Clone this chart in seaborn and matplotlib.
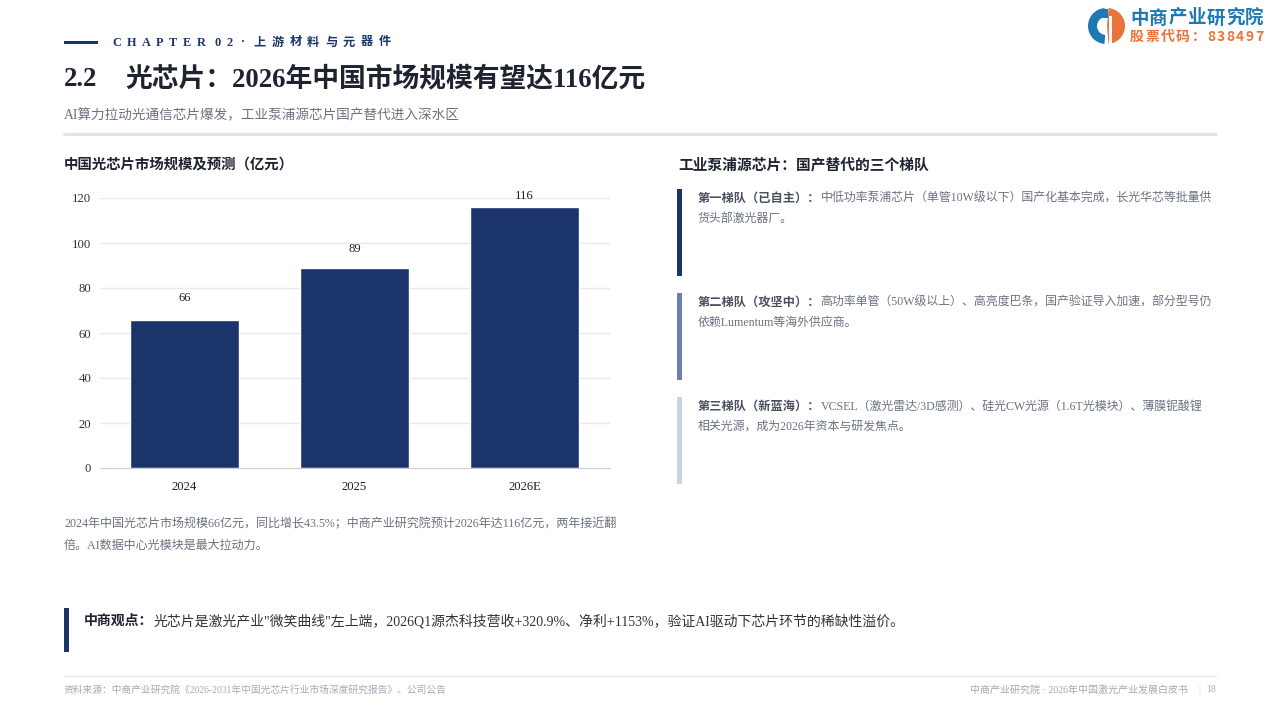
import matplotlib
matplotlib.use("Agg")
import matplotlib.pyplot as plt
import matplotlib.patches as mpatches
import seaborn as sns
import pandas as pd

# ---------------- data ----------------
years = ["2024", "2025", "2026E"]
market_size = [66, 89, 116]
y_ticks = [0, 20, 40, 60, 80, 100, 120]

chapter_label = "CHAPTER 02 · 上游材料与元器件"
title_num = "2.2"
title_text = "光芯片：2026年中国市场规模有望达116亿元"
subtitle = "AI算力拉动光通信芯片爆发，工业泵浦源芯片国产替代进入深水区"
chart_title = "中国光芯片市场规模及预测（亿元）"
note_lines = ["2024年中国光芯片市场规模66亿元，同比增长43.5%；中商产业研究院预计2026年达116亿元，两年接近翻",
              "倍。AI数据中心光模块是最大拉动力。"]
panel_title = "工业泵浦源芯片：国产替代的三个梯队"
tier_heads = ["第一梯队（已自主）：", "第二梯队（攻坚中）：", "第三梯队（新蓝海）："]
tier_line1 = ["中低功率泵浦芯片（单管10W级以下）国产化基本完成，长光华芯等批量供",
              "高功率单管（50W级以上）、高亮度巴条，国产验证导入加速，部分型号仍",
              "VCSEL（激光雷达/3D感测）、硅光CW光源（1.6T光模块）、薄膜铌酸锂"]
tier_line2 = ["货头部激光器厂。", "依赖Lumentum等海外供应商。", "相关光源，成为2026年资本与研发焦点。"]
view_head = "中商观点："
view_body = "光芯片是激光产业\"微笑曲线\"左上端，2026Q1源杰科技营收+320.9%、净利+1153%，验证AI驱动下芯片环节的稀缺性溢价。"
footer_left = "资料来源：中商产业研究院《2026-2031年中国光芯片行业市场深度研究报告》、公司公告"
footer_right = "中商产业研究院 · 2026年中国激光产业发展白皮书"
page_no = "18"
logo_name = "中商产业研究院"
logo_code = "股票代码：838497"

# ---------------- style ----------------
sns.set_style("white")
MIX = ["Liberation Serif", "Noto Sans CJK SC", "DejaVu Sans"]
SANS = ["Noto Sans CJK SC", "DejaVu Sans"]
plt.rcParams["font.family"] = MIX

NAVY = "#1b3469"
MID = "#6b80b0"
LIGHT = "#c8d3e6"
DARK = "#1f2330"
GRAY = "#6b7280"
GRID = "#e6e9f0"

W, H = 1280, 720
fig = plt.figure(figsize=(12.8, 7.2), dpi=100)
fig.patch.set_facecolor("white")

# overlay in pixel coordinates
ov = fig.add_axes([0, 0, 1, 1])
ov.set_xlim(0, W)
ov.set_ylim(H, 0)
ov.axis("off")

renderer = fig.canvas.get_renderer()


def text(x, y, s, size, color, weight="normal", family=MIX, ha="left", va="center"):
    return ov.text(x, y, s, fontsize=size, color=color, fontweight=weight,
                   family=family, ha=ha, va=va)


def width_of(t):
    return t.get_window_extent(renderer=renderer).width


def runs(x, y, parts, va="center"):
    cx = x
    for s, size, color, weight in parts:
        t = text(cx, y, s, size, color, weight, va=va)
        cx += width_of(t)
    return cx


def tracked(x, y, s, size, color, weight, tracking, family=MIX):
    cx = x
    for ch in s:
        if ch == " ":
            cx += size * 0.35
            continue
        t = text(cx, y, ch, size, color, weight, family=family)
        cx += width_of(t) + tracking
    return cx


# header
ov.add_patch(mpatches.Rectangle((64, 40.5), 34, 3.5, color=NAVY, lw=0))
tracked(112, 42.5, chapter_label, 8.8, NAVY, "bold", 5.6)

text(64, 80, title_num, 19.3, DARK, "bold")
text(125, 80, title_text, 19.3, DARK, "bold")
text(64, 116, subtitle, 9.8, GRAY)
ov.plot([64, 1216], [133.5, 133.5], color="#dde1ea", lw=2)

# logo
cx, cy, r = 1106, 26, 18
ov.add_patch(mpatches.Wedge((cx, cy), r, 95, 265, width=9, color="#1f78b4", lw=0))
ov.add_patch(mpatches.Wedge((cx + 1, cy), r, -85, 85, color="#e8743b", lw=0))
ov.add_patch(mpatches.Rectangle((cx + 3, cy - 10), 3, 28, color="white", lw=0))
ov.add_patch(mpatches.Rectangle((cx - 3, cy - 17), 5, 9, color="#1f78b4", lw=0))
tracked(1130, 18, logo_name, 13.3, "#1f78b4", "bold", 0.7, family=SANS)
tracked(1130, 37, logo_code, 10, "#e8743b", "bold", 1.5, family=SANS)

# chart title
text(64, 165, chart_title, 10.4, DARK, "bold")

# right panel
text(678, 165, panel_title, 10.6, DARK, "bold")
tier_colors = [NAVY, MID, LIGHT]
tops = [189, 293, 397]
for i in range(3):
    ov.add_patch(mpatches.Rectangle((677, tops[i]), 5, 87, color=tier_colors[i], lw=0))
    runs(698, tops[i] + 10, [(tier_heads[i], 8.8, "#4b5060", "bold"),
                             (tier_line1[i], 8.6, GRAY, "normal")])
    text(698, tops[i] + 30, tier_line2[i], 8.6, GRAY)

# note under chart
text(64, 524, note_lines[0], 8.68, GRAY)
text(64, 546, note_lines[1], 8.68, GRAY)

# viewpoint
ov.add_patch(mpatches.Rectangle((64, 608), 5, 44, color=NAVY, lw=0))
runs(84, 621, [(view_head, 10.0, DARK, "bold"), (view_body, 10.0, "#333333", "normal")])

# footer
ov.plot([64, 1216], [676, 676], color="#e6e9ef", lw=1)
text(64, 690, footer_left, 7.0, "#a3a9b6")
text(1216, 690, page_no, 7.0, "#a3a9b6", ha="right")
text(1200, 690, "|", 7.0, "#c8d3e6", ha="right")
text(1188, 690, footer_right, 7.2, "#a3a9b6", ha="right")

# ---------------- bar chart ----------------
df = pd.DataFrame({"year": years, "value": market_size})
ax = fig.add_axes([99.5 / W, (H - 468) / H, 510 / W, 270 / H])
sns.barplot(data=df, x="year", y="value", color=NAVY, saturation=1, width=0.64, ax=ax, zorder=3)
ax.set_xlim(-0.5, 2.5)
ax.set_ylim(0, 120)
ax.set_yticks(y_ticks)
ax.set_yticklabels([str(v) for v in y_ticks], family=MIX, fontsize=9.2, color="#333333")
ax.set_xlabel("")
ax.set_ylabel("")
for v in y_ticks[1:]:
    ax.axhline(v, color=GRID, lw=1, zorder=1)
for s in ["top", "right", "left"]:
    ax.spines[s].set_visible(False)
ax.spines["bottom"].set_color("#c9ced8")
ax.spines["bottom"].set_zorder(4)
ax.tick_params(axis="y", length=0, pad=6)
ax.tick_params(axis="x", which="major", length=0, pad=9, labelsize=9.2, labelcolor="#222222")
ax.set_xticks([-0.5, 0.5, 1.5, 2.5], minor=True)
ax.tick_params(axis="x", which="minor", length=5, color="#c9ced8", width=1)
for lab in ax.get_xticklabels():
    lab.set_family(MIX)
offsets = [11, 9, 3.5]
for i, v in enumerate(market_size):
    ax.annotate(str(v), xy=(i, v), xytext=(0, offsets[i]), textcoords="offset points",
                ha="center", va="bottom", fontsize=9.2, color="#222222", family=MIX,
                annotation_clip=False)

fig.savefig("out.png", dpi=100, facecolor="white")
